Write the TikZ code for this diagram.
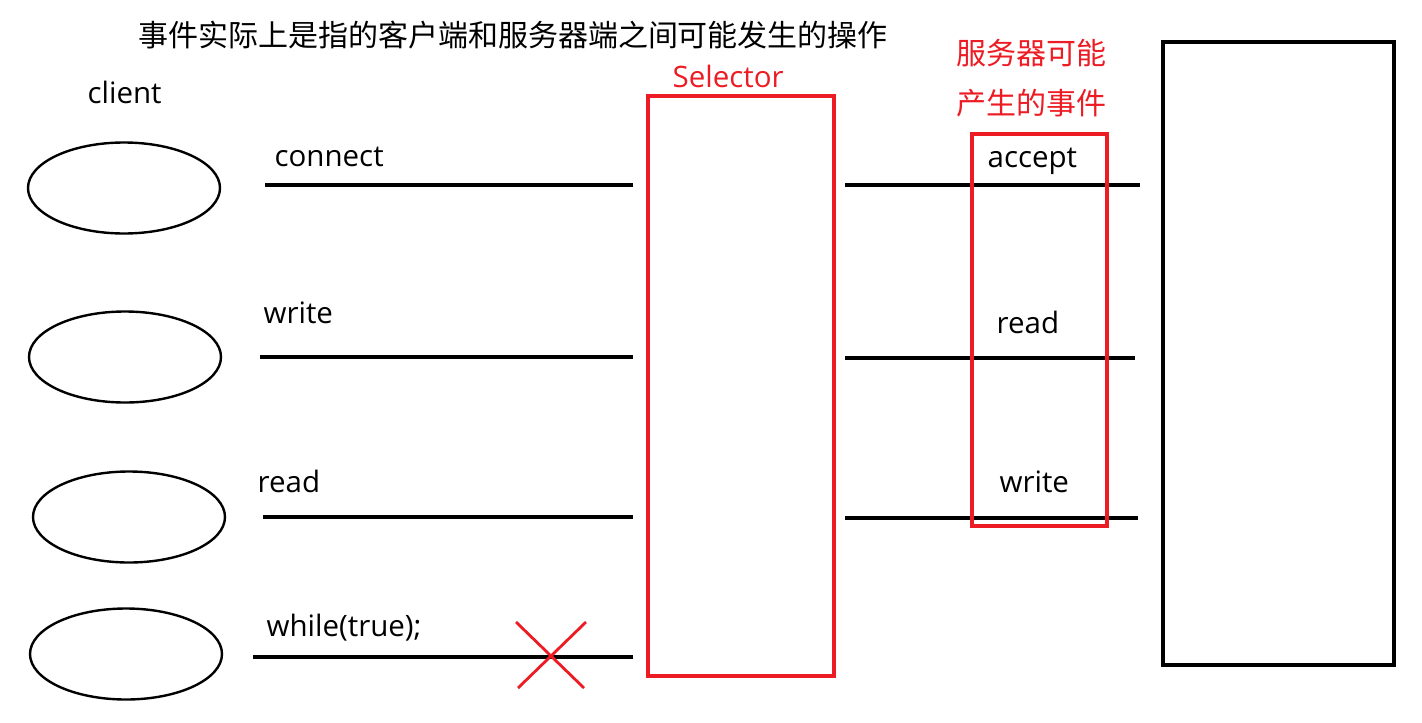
\documentclass[tikz,border=0pt]{standalone}
\usepackage{fontspec}
\setmainfont{Open Sans}
\newfontfamily\cjk{Noto Sans CJK SC}
\usetikzlibrary{shapes.geometric}
\definecolor{paintred}{RGB}{237,28,36}

\begin{document}
\begin{tikzpicture}[x=1pt, y=-1pt, line width=3.2pt,
  font=\fontsize{29.5}{34}\selectfont,
  client/.style={draw, ellipse, line width=2.4pt, minimum width=192pt, minimum height=91pt, inner sep=0pt},
  oplabel/.style={anchor=base west, inner sep=0pt},
  cjktext/.style={inner sep=0pt, font=\cjk\fontsize{30}{34}\selectfont},
  redbox/.style={draw=paintred, line width=3.2pt}]
\useasboundingbox (0,0) rectangle (1422,723);

% title
\node[cjktext] (title) at (513,35) {事件实际上是指的客户端和服务器端之间可能发生的操作};
\node[oplabel] (clientlbl) at (86,103) {client};

% clients
\node[client] (c1) at (124,188) {};
\node[client] (c2) at (125,357) {};
\node[client] (c3) at (129,517) {};
\node[client] (c4) at (126,654) {};

% selector
\draw[redbox] (648,96) rectangle (834,676);
\node[oplabel, text=paintred] (sellbl) at (671,87) {Selector};

% client side operations
\coordinate (l1a) at (265,185); \coordinate (l1b) at (633,185);
\coordinate (l2a) at (260,357); \coordinate (l2b) at (633,357);
\coordinate (l3a) at (263,517); \coordinate (l3b) at (633,517);
\coordinate (l4a) at (253,657); \coordinate (l4b) at (633,657);
\draw (l1a) -- (l1b);
\draw (l2a) -- (l2b);
\draw (l3a) -- (l3b);
\draw (l4a) -- (l4b);
\node[oplabel] (op1) at (273,166) {connect};
\node[oplabel] (op2) at (262,323) {write};
\node[oplabel] (op3) at (256,492) {read};
\node[oplabel] (op4) at (265,636) {while(true);};

% blocked
\draw[paintred, line width=2.8pt] (516,622) -- (584,688);
\draw[paintred, line width=2.8pt] (586,622) -- (518,688);

% server side events
\coordinate (r1a) at (845,185); \coordinate (r1b) at (1140,185);
\coordinate (r2a) at (845,358); \coordinate (r2b) at (1135,358);
\coordinate (r3a) at (845,518); \coordinate (r3b) at (1138,518);
\draw (r1a) -- (r1b);
\draw (r2a) -- (r2b);
\draw (r3a) -- (r3b);
\node[oplabel] (ev1) at (986,167) {accept};
\node[oplabel] (ev2) at (995,333) {read};
\node[oplabel] (ev3) at (998,492) {write};
\draw[redbox] (972,134) rectangle (1107,526);
\node[cjktext, text=paintred] (evtitle1) at (1031,53) {服务器可能};
\node[cjktext, text=paintred] (evtitle2) at (1031,103) {产生的事件};

% server
\draw (1163,42) rectangle (1394,665);
\end{tikzpicture}
\end{document}
